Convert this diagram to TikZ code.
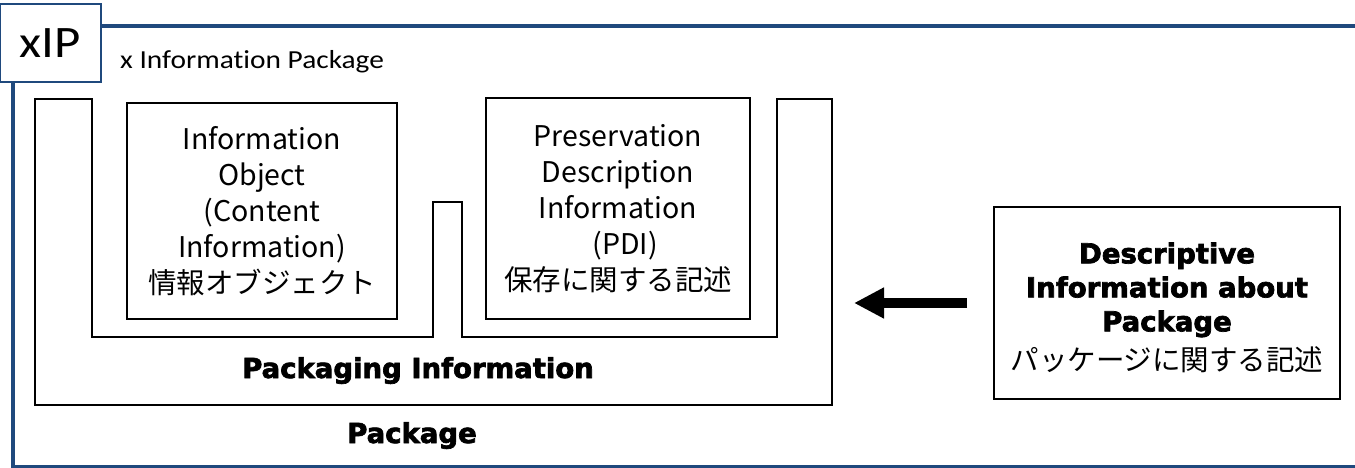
\documentclass[tikz,border=0pt]{standalone}
\usepackage{fontspec}
\setmainfont{Carlito}[Ligatures=NoCommon]
\newfontfamily\jpfont{Noto Sans CJK JP}
\newfontfamily\blackfont{DejaVu Sans}[BoldFeatures={FakeBold=2.5}]
\usetikzlibrary{arrows.meta}
\definecolor{frameblue}{RGB}{31,73,125}
\begin{document}
\begin{tikzpicture}[x=1pt,y=-1pt,
  box/.style={draw=black, line width=2pt, align=center, inner sep=0pt},
  jptext/.style={font=\jpfont\fontsize{28.5}{36}\selectfont},
  heavy/.style={font=\blackfont\bfseries\fontsize{27.5}{34}\selectfont},
  outline/.style={draw=black, line width=2pt},
  frame/.style={draw=frameblue, line width=3.8pt},
  ]
\useasboundingbox (0,0) rectangle (1355,468);
% outer blue frame
\draw[frame] (1360,26) -- (13,26) -- (13,466.5) -- (1360,466.5);
\node[draw=frameblue, line width=1.5pt, fill=white, minimum width=101pt, minimum height=78pt,
      inner sep=0pt, font=\fontsize{45}{50}\selectfont] (xip) at (50.5,43) {\raisebox{-3pt}{\scalebox{1.13}[1]{xIP}}};
\node[anchor=base west, font=\fontsize{26}{30}\selectfont, inner sep=0pt] (title) at (120,69) {\scalebox{1.13}[1]{x Information Package}};
% package outline
\draw[outline] (35,99) -- (92,99) -- (92,337) -- (433,337) -- (433,202) -- (462,202) -- (462,337)
   -- (777,337) -- (777,99) -- (832,99) -- (832,405) -- (35,405) -- cycle;
% inner boxes
\node[box, jptext, minimum width=270pt, minimum height=216pt] (io) at (262,211)
  {Information\\Object\\(Content\\Information)\\情報オブジェクト};
\node[box, jptext, minimum width=264pt, minimum height=221pt] (pdi) at (618,208.5)
  {Preservation\\Description\\Information\\\hspace*{14pt}(PDI)\\保存に関する記述};
% labels
\node[heavy, anchor=base, inner sep=0pt] (pkginfo) at (418,378) {Packaging Information};
\node[heavy, anchor=base, inner sep=0pt] (pkg) at (412,443) {Package};
% descriptive box
\node[box, heavy, minimum width=346pt, minimum height=192pt] (desc) at (1167,303)
  {\rule{0pt}{30pt}Descriptive\\Information about\\Package\\[5pt]{\jpfont\mdseries\fontsize{28.5}{34}\selectfont パッケージに関する記述}};
\coordinate (tip) at (854,303);
\draw[line width=10pt, -{Triangle[length=30pt,width=29pt]}, shorten <=26pt] (desc.west) -- (tip);
\end{tikzpicture}
\end{document}
